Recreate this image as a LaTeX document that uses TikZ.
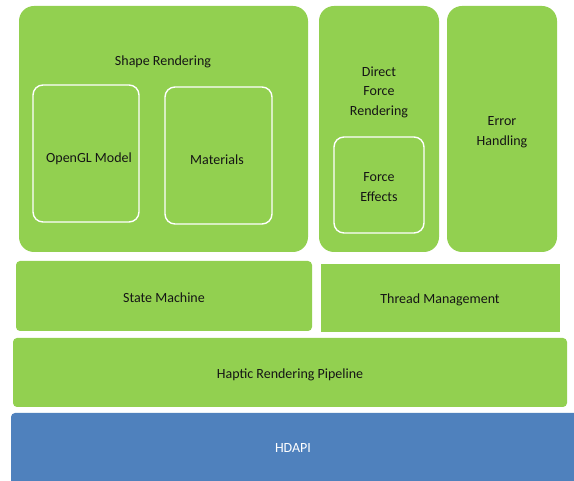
\documentclass[tikz,border=0pt]{standalone}
\usepackage{fontspec}
\setmainfont{Carlito}
\definecolor{lgreen}{HTML}{92D050}
\definecolor{hblue}{HTML}{4F81BD}
\definecolor{txt}{HTML}{151515}
\tikzset{
  blk/.style={fill=lgreen, draw=none, inner sep=0pt, outer sep=0pt},
  bigblk/.style={blk, rounded corners=15pt},
  smallblk/.style={blk, rounded corners=4pt},
  inner/.style={draw=white, line width=1.4pt, rounded corners=10pt, fill=none},
  lbl/.style={text=txt, align=center, inner sep=0pt, font=\fontsize{14}{19.5}\selectfont}
}
\begin{document}
\begin{tikzpicture}[x=1pt,y=-1pt]
\useasboundingbox (0,0) rectangle (574,481);
\fill[white] (0,0) rectangle (574,481);
\clip (0,0) rectangle (574,481);
% Shape rendering
\draw[bigblk] (19,6) rectangle (308,252);
\node[lbl] (shape) at (163,61.5) {Shape Rendering};
\draw[inner] (33,85) rectangle (139,222);
\node[lbl] (opengl) at (89,158.5) {OpenGL Model};
\draw[inner] (165,87) rectangle (272,224);
\node[lbl] (materials) at (217,160) {Materials};
% Direct force rendering
\draw[bigblk] (319,6) rectangle (439,252);
\node[lbl] (direct) at (379,92) {Direct\\Force\\Rendering};
\draw[inner] (334,137) rectangle (424,233);
\node[lbl] (forceeff) at (379,187) {Force\\Effects};
% Error handling
\draw[bigblk] (447,6) rectangle (557,252);
\node[lbl] (error) at (502,132) {Error\\Handling};
% State machine / Thread management
\draw[smallblk] (16,261) rectangle (312,331);
\node[lbl] (state) at (164,297.5) {State Machine};
\draw[blk] (321,264) rectangle (560,332);
\node[lbl] (thread) at (440,299.5) {Thread Management};
% Haptic rendering pipeline
\draw[smallblk] (13,338) rectangle (567,407);
\node[lbl] (haptic) at (290,374.5) {Haptic Rendering Pipeline};
% HDAPI
\draw[smallblk, fill=hblue] (11,413) rectangle (590,500);
\node[lbl, text=white] (hdapi) at (293,448.5) {HDAPI};
\end{tikzpicture}
\end{document}
